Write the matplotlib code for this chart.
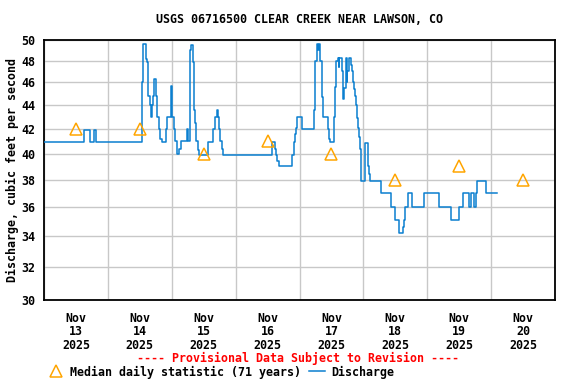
import numpy as np
import pandas as pd
import matplotlib
matplotlib.use("Agg")
import matplotlib.pyplot as plt
import matplotlib.dates as mdates
from matplotlib.lines import Line2D

# discharge: hours after 2025-11-13 00:00 and cfs (step data)
q_hours = [0, 15.0, 17.25, 18.94, 19.39, 36.64, 37.13, 38.44, 38.81, 39.26,
           39.75, 40.13, 40.61, 40.99, 41.36, 42.11, 42.49, 43.13, 43.76, 44.36,
           45.75, 46.39, 47.63, 48.11, 48.86, 49.39, 49.99, 50.74, 51.38, 53.74,
           54.26, 54.75, 55.01, 55.39, 55.99, 56.25, 56.89, 57.26, 57.86, 58.24,
           61.61, 63.49, 64.39, 64.99, 65.36, 65.63, 66.26, 66.75, 67.24, 85.76,
           86.74, 87.26, 87.64, 88.13, 93.11, 93.75, 94.31, 94.69, 94.99, 97.01,
           101.63, 102.0, 102.64, 103.01, 103.39, 103.76, 104.36, 104.74, 106.61, 106.99,
           107.36, 108.86, 109.24, 109.76, 110.36, 110.74, 111.0, 111.86, 112.24, 112.88,
           113.51, 113.74, 114.0, 114.49, 115.39, 115.76, 116.14, 116.63, 117.0, 117.26,
           117.64, 118.13, 118.5, 118.76, 118.99, 120.49, 120.75, 121.76, 122.25, 122.63,
           126.64, 130.5, 131.81, 133.24, 134.74, 135.26, 135.64, 136.88, 138.26, 142.88,
           148.5, 153.11, 156.11, 157.5, 159.75, 160.39, 161.63, 162.26, 162.56, 166.01,
           170.36]
q_cfs = [40.9, 41.9, 40.9, 41.9, 40.9, 46.0, 49.6, 48.2, 47.9, 44.8,
         44.0, 43.0, 44.0, 44.8, 46.3, 44.8, 43.0, 42.0, 41.2, 40.9,
         42.0, 43.0, 45.7, 43.0, 42.0, 41.0, 40.0, 40.4, 41.0, 42.0,
         41.0, 42.5, 49.0, 49.5, 47.9, 43.6, 42.5, 41.0, 40.3, 39.9,
         40.9, 42.0, 43.0, 43.6, 43.0, 42.0, 41.0, 40.4, 39.9, 40.9,
         40.4, 39.9, 39.4, 39.0, 39.9, 40.9, 41.6, 42.1, 43.0, 42.0,
         43.6, 48.0, 49.6, 49.0, 49.6, 48.0, 44.7, 43.0, 42.0, 41.2,
         40.9, 43.0, 45.6, 48.0, 48.3, 47.4, 48.3, 47.0, 44.5, 45.5,
         48.3, 46.0, 47.0, 48.3, 47.6, 47.0, 46.0, 45.4, 44.8, 44.0,
         42.9, 42.1, 41.3, 40.4, 37.9, 40.6, 40.8, 39.0, 38.4, 37.9,
         37.0, 36.0, 35.1, 34.2, 34.6, 35.1, 36.0, 37.0, 36.0, 37.0,
         36.0, 35.1, 36.0, 37.0, 36.0, 37.0, 36.0, 37.0, 37.9, 37.0,
         37.0]

# median daily statistic, one per day at noon
median_days = ["2025-11-13", "2025-11-14", "2025-11-15", "2025-11-16",
               "2025-11-17", "2025-11-18", "2025-11-19", "2025-11-20"]
median_cfs = [42, 42, 40, 41, 40, 38, 39, 38]

y_ticks = [30, 32, 34, 36, 38, 40, 42, 44, 46, 48, 50]

start = pd.Timestamp("2025-11-13")
q_time = start + pd.to_timedelta(q_hours, unit="h")
m_time = pd.to_datetime(median_days) + pd.Timedelta(hours=12)

font = "DejaVu Sans Mono"
fs = 8.4
blue = "#0a7fd0"
orange = "#ffa500"

fig = plt.figure(figsize=(5.76, 3.84), dpi=100)
ax = fig.add_axes([44 / 576, 84 / 384, 511 / 576, 260 / 384])

ax.step(q_time, q_cfs, where="post", color=blue, lw=1.1, zorder=3)
ax.plot(m_time, median_cfs, ls="none", marker="^", ms=8, mfc="none",
        mec=orange, mew=1.1, zorder=4)

ax.set_yscale("log")
ax.set_ylim(30, 50)
ax.set_yticks(y_ticks)
ax.set_yticklabels([str(t) for t in y_ticks], fontfamily=font,
                   fontweight="bold", fontsize=fs)
ax.yaxis.set_minor_locator(matplotlib.ticker.NullLocator())

ax.set_xlim(start, start + pd.Timedelta(days=8))
ax.xaxis.set_major_locator(mdates.DayLocator())
ax.xaxis.set_minor_locator(mdates.HourLocator(byhour=[12]))
ax.xaxis.set_major_formatter(matplotlib.ticker.NullFormatter())
ax.xaxis.set_minor_formatter(mdates.DateFormatter("%b\n%d\n%Y"))
for lab in ax.xaxis.get_minorticklabels():
    lab.set_fontfamily(font)
    lab.set_fontweight("bold")
    lab.set_fontsize(fs)
    lab.set_linespacing(1.05)

ax.tick_params(which="both", length=0)
ax.tick_params(axis="y", pad=6)
ax.tick_params(axis="x", which="minor", pad=8.5)
ax.grid(True, which="major", color="#c8c8c8", lw=1)
ax.set_axisbelow(True)
for s in ax.spines.values():
    s.set_linewidth(1.3)

ax.set_title("USGS 06716500 CLEAR CREEK NEAR LAWSON, CO", fontfamily=font,
             fontweight="bold", fontsize=fs, pad=12.5)
ax.set_ylabel("Discharge, cubic feet per second", fontfamily=font,
              fontweight="bold", fontsize=fs, labelpad=2)

fig.text(298 / 576, 1 - 358 / 384, "---- Provisional Data Subject to Revision ----",
         ha="center", va="center", color="red", fontfamily=font,
         fontweight="bold", fontsize=fs)

handles = [Line2D([], [], ls="none", marker="^", ms=8, mfc="none",
                  mec=orange, mew=1.1),
           Line2D([], [], color=blue, lw=1.1)]
fig.legend(handles, ["Median daily statistic (71 years)", "Discharge"],
           loc="center left", bbox_to_anchor=(42 / 576, 1 - 372 / 384), ncol=2,
           frameon=False, handlelength=1.4, handletextpad=0.5,
           columnspacing=0.7, borderpad=0,
           prop={"family": font, "weight": "bold", "size": fs})

fig.savefig("out.png", dpi=100)
